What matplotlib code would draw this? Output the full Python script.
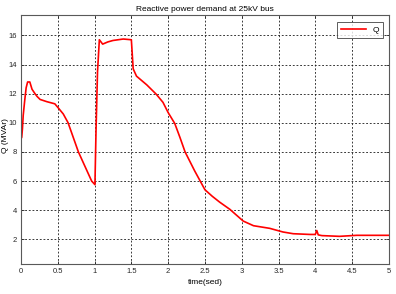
import numpy as np
import matplotlib.pyplot as plt

plt.rcParams["font.family"] = ["Liberation Sans", "DejaVu Sans"]
plt.rcParams["font.size"] = 5.5

# >>>>>>>>>>>>>> data
t = [0.0, 0.01, 0.02, 0.03, 0.05, 0.07, 0.09, 0.12, 0.15, 0.19, 0.22, 0.26,
     0.35, 0.46, 0.51, 0.575, 0.64, 0.71, 0.78, 0.87, 0.96, 1.005,
     1.02, 1.04, 1.065, 1.11, 1.18, 1.25, 1.39, 1.50, 1.525, 1.57, 1.71,
     1.84, 1.93, 2.0, 2.09, 2.16, 2.23, 2.36, 2.5, 2.6, 2.70, 2.84, 3.02,
     3.16, 3.38, 3.56, 3.70, 3.93, 4.0, 4.02, 4.04, 4.09, 4.33, 4.56, 4.75, 5.0]
q = [8.9, 9.0, 9.6, 10.5, 11.5, 12.4, 12.8, 12.8, 12.3, 12.0, 11.8, 11.6,
     11.45, 11.3, 11.0, 10.6, 10.0, 9.0, 8.0, 7.0, 6.0, 5.75,
     9.5, 13.5, 15.7, 15.4, 15.55, 15.65, 15.75, 15.7, 13.7, 13.2, 12.6,
     11.95, 11.4, 10.7, 9.95, 9.0, 8.0, 6.7, 5.4, 4.95, 4.55, 4.05, 3.25,
     2.93, 2.75, 2.5, 2.38, 2.33, 2.33, 2.6, 2.3, 2.25, 2.2, 2.27, 2.27, 2.27]

xticks = np.arange(0, 5.01, 0.5)
xticklabels = ["0", "0.5", "1", "1.5", "2", "2.5", "3", "3.5", "4", "4.5", "5"]
yticks = [2, 4, 6, 8, 10, 12, 14, 16]

# >>>>>>>>>>>>>> plotting
fig = plt.figure(figsize=(3.96, 2.94), dpi=100)
ax = fig.add_axes([0.053, 0.102, 0.929, 0.847])
ax.plot(t, q, color="r", lw=1.2, label="Q")
ax.set_xlim([0, 5])
ax.set_ylim([0.3, 17.4])
ax.set_xticks(xticks)
ax.set_xticklabels(xticklabels)
ax.set_yticks(yticks)
ax.grid(True, color="0.1", linestyle=(0, (2.2, 2.2)), lw=0.6)
ax.tick_params(direction="in", length=2.5, width=0.6, top=True, right=True,
               pad=3, labelsize=5.5, colors="0.15")
for s in ax.spines.values():
    s.set_color("0.35")
    s.set_linewidth(0.8)

ax.set_title("Reactive power demand at 25kV bus", fontsize=6, pad=3)
ax.set_xlabel("time(sed)", fontsize=6, labelpad=3)
fig.text(0.013, 0.54, "Q (MVAr)", rotation=90, fontsize=6, ha="center", va="center")

leg = ax.legend(loc="upper right", fontsize=6, frameon=True, fancybox=False,
                handlelength=3.0, borderpad=0.45, borderaxespad=0.6,
                bbox_to_anchor=(0.997, 0.99))
leg.get_frame().set_edgecolor("0.2")
leg.get_frame().set_linewidth(0.7)

fig.savefig("out.png", dpi=100)
